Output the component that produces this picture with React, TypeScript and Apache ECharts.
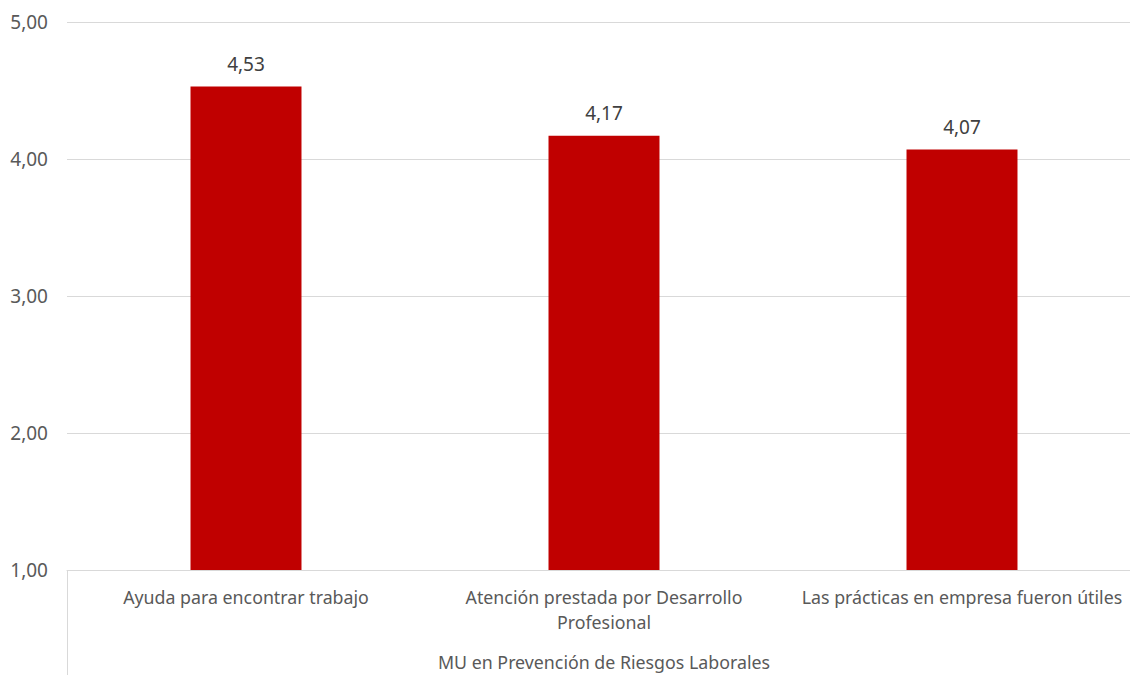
import React, { useEffect, useRef } from "react";
import * as echarts from "echarts";

const categories = [
  "Ayuda para encontrar trabajo",
  "Atención prestada por Desarrollo\nProfesional",
  "Las prácticas en empresa fueron útiles",
];
const values = [4.53, 4.17, 4.07];
const groupLabel = "MU en Prevención de Riesgos Laborales";
const yMin = 1;
const yMax = 5;
const yStep = 1;

const fmt = (v: number) => v.toFixed(2).replace(".", ",");

export default function App() {
  const ref = useRef<HTMLDivElement>(null);
  useEffect(() => {
    if (!ref.current) return;
    const chart = echarts.init(ref.current, null, { renderer: "svg" });
    const font = "Noto Sans";
    const gridLeft = 67;
    const gridTop = 22;
    const gridBottomY = 570;
    const gridWidth = 1074;
    const textSize = 17.8;
    const numSize = 19;
    chart.setOption({
      animation: false,
      textStyle: { fontFamily: font },
      grid: {
        left: gridLeft,
        top: gridTop,
        width: gridWidth,
        height: gridBottomY - gridTop,
        containLabel: false,
      },
      xAxis: {
        type: "category",
        data: categories,
        axisLine: { show: true, lineStyle: { color: "#d9d9d9", width: 1 } },
        axisTick: { show: false },
        axisLabel: {
          color: "#595959",
          fontSize: textSize,
          fontFamily: font,
          margin: 14,
          lineHeight: 25,
          interval: 0,
        },
      },
      yAxis: {
        type: "value",
        min: yMin,
        max: yMax,
        interval: yStep,
        axisLine: { show: false },
        axisTick: { show: false },
        splitLine: { lineStyle: { color: "#d9d9d9", width: 1 } },
        axisLabel: {
          color: "#595959",
          fontSize: numSize,
          fontFamily: font,
          margin: 19,
          formatter: (v: number) => fmt(v),
        },
      },
      series: [
        {
          type: "bar",
          data: values,
          barWidth: "31%",
          itemStyle: { color: "#C00000" },
          label: {
            show: true,
            position: "top",
            distance: 13,
            color: "#404040",
            fontSize: numSize,
            fontFamily: font,
            formatter: (p: any) => fmt(p.value),
          },
        },
      ],
      graphic: [
        {
          type: "line",
          shape: { x1: gridLeft + 0.5, y1: gridBottomY, x2: gridLeft + 0.5, y2: 675 },
          style: { stroke: "#d9d9d9", lineWidth: 1 },
        },
        {
          type: "text",
          x: 604,
          y: 662,
          style: {
            text: groupLabel,
            fill: "#595959",
            fontSize: textSize,
            fontFamily: font,
            textAlign: "center",
            textVerticalAlign: "middle",
          },
        },
      ],
    });
    return () => chart.dispose();
  }, []);
  return (
    <div
      ref={ref}
      style={{ position: "fixed", left: 0, top: 0, width: 1150, height: 675, background: "#fff" }}
    />
  );
}
